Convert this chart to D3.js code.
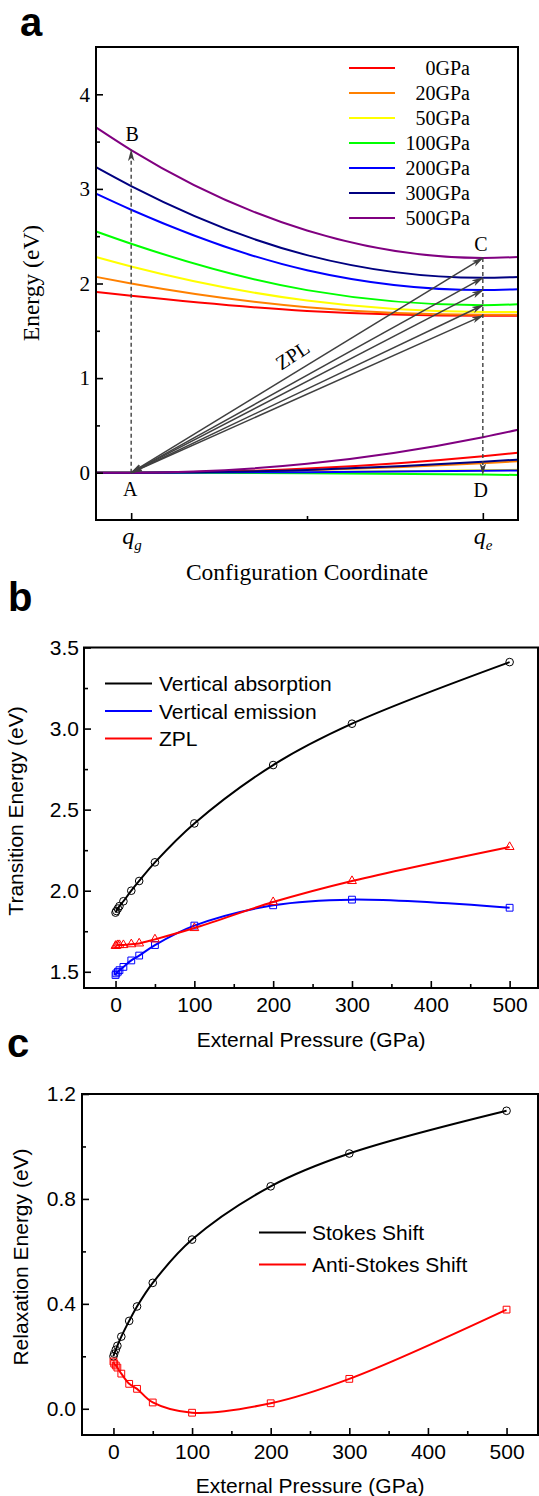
<!DOCTYPE html>
<html>
<head>
<meta charset="utf-8">
<script src="https://cdn.jsdelivr.net/npm/d3@7"></script>
<style>
  body { margin: 0; background: #fff; }
  svg { display: block; }
</style>
</head>
<body>
<svg id="fig" width="539" height="1496"></svg>
<script>
/* three stacked panels: configuration diagram, transition energies, relaxation energies */

// ---- panel a data ----
const curveLabels = ['0GPa', '20GPa', '50GPa', '100GPa', '200GPa', '300GPa', '500GPa'];
const curveColors = ['#ff0000', '#ff8000', '#ffff00', '#00ff00', '#0000ff', '#000080', '#800080'];
const qPoints = [-0.1, 0, 0.5, 1, 1.1];           // configuration coordinate samples
const excitedE = [                                  // excited-state energy at qPoints
  [1.91, 1.87, 1.71, 1.66, 1.66],
  [2.07, 2.00, 1.75, 1.67, 1.67],
  [2.28, 2.18, 1.82, 1.70, 1.70],
  [2.55, 2.42, 1.93, 1.77, 1.78],
  [2.95, 2.78, 2.14, 1.93, 1.94],
  [3.23, 3.03, 2.30, 2.06, 2.07],
  [3.65, 3.41, 2.56, 2.27, 2.28]
];
const groundE = [                                   // ground-state energy at qPoints
  [0, 0, 0.044, 0.175, 0.212],
  [0, 0, 0.025, 0.100, 0.121],
  [0, 0, 0.006, 0.025, 0.030],
  [0, 0, -0.005, -0.020, -0.024],
  [0, 0, 0.005, 0.020, 0.024],
  [0, 0, 0.029, 0.115, 0.139],
  [0, 0, 0.094, 0.375, 0.454]
];
const zplTargets = [1.66, 1.77, 1.93, 2.06, 2.27];
const absorptionTop = 3.41;      // point B
const emissionTop = 2.27;        // point C
const emissionBottom = -0.02;    // point D

// ---- panels b and c data ----
const pressure   = [0, 1, 3, 5, 10, 20, 30, 50, 100, 200, 300, 500];
const vertAbs    = [1.865, 1.875, 1.89, 1.905, 1.935, 2.00, 2.06, 2.175, 2.415, 2.775, 3.03, 3.41];
const vertEmi    = [1.48, 1.49, 1.50, 1.51, 1.53, 1.57, 1.60, 1.665, 1.785, 1.91, 1.945, 1.895];
const zpl        = [1.66, 1.66, 1.665, 1.665, 1.665, 1.67, 1.675, 1.70, 1.77, 1.93, 2.06, 2.27];
const stokes     = [0.20, 0.21, 0.225, 0.24, 0.275, 0.335, 0.39, 0.48, 0.645, 0.848, 0.973, 1.136];
const antiStokes = [0.18, 0.172, 0.165, 0.157, 0.134, 0.095, 0.076, 0.024, -0.015, 0.021, 0.114, 0.378];

const SERIF = '"Liberation Serif", "Times New Roman", serif';
const SANS  = '"Liberation Sans", Arial, sans-serif';
const GREY  = '#404040';

const svg = d3.select('#fig');

// arrow head
svg.append('defs').append('marker')
  .attr('id', 'head')
  .attr('markerUnits', 'userSpaceOnUse')
  .attr('markerWidth', 12).attr('markerHeight', 8)
  .attr('refX', 11).attr('refY', 4)
  .attr('orient', 'auto-start-reverse')
  .append('path')
  .attr('d', 'M0,0.8 L12,4 L0,7.2 L3,4 Z')
  .attr('fill', GREY);

function frame(x, y) {
  svg.append('rect')
    .attr('x', x.range()[0]).attr('y', y.range()[1])
    .attr('width', x.range()[1] - x.range()[0])
    .attr('height', y.range()[0] - y.range()[1])
    .attr('fill', 'none').attr('stroke', '#000').attr('stroke-width', 2);
}

// inward ticks, labels outside
function axes(x, y, o) {
  const gx = svg.append('g').attr('transform', `translate(0,${y.range()[0]})`)
    .call(d3.axisBottom(x).tickValues(o.xMajor).tickSize(-7).tickPadding(o.xPad)
      .tickFormat(o.xFormat));
  svg.append('g').attr('transform', `translate(0,${y.range()[0]})`)
    .call(d3.axisBottom(x).tickValues(o.xMinor).tickSize(-4).tickFormat(''));
  const gy = svg.append('g').attr('transform', `translate(${x.range()[0]},0)`)
    .call(d3.axisLeft(y).tickValues(o.yMajor).tickSize(-7).tickPadding(o.yPad)
      .tickFormat(o.yFormat));
  svg.append('g').attr('transform', `translate(${x.range()[0]},0)`)
    .call(d3.axisLeft(y).tickValues(o.yMinor).tickSize(-4).tickFormat(''));
  svg.selectAll('.domain').remove();
  svg.selectAll('.tick line').attr('stroke', '#000').attr('stroke-width', 1.6);
  [gx, gy].forEach(g => g.selectAll('text')
    .attr('font-family', o.font).attr('font-size', o.size).attr('fill', '#000'));
}

function label(txt, x, y, size, font, extra) {
  const t = svg.append('text').attr('x', x).attr('y', y)
    .attr('font-family', font).attr('font-size', size)
    .attr('text-anchor', 'middle').attr('fill', '#000').text(txt);
  if (extra) extra(t);
  return t;
}

function panelLetter(ch, x, y) {
  svg.append('text').attr('x', x).attr('y', y)
    .attr('font-family', SANS).attr('font-weight', 'bold')
    .attr('font-size', 40).text(ch);
}

/* ================= panel a ================= */
{
  const x = d3.scaleLinear().domain([-0.1, 1.1]).range([96, 518]);
  const y = d3.scaleLinear().domain([-0.5, 4.5]).range([520, 47]);

  panelLetter('a', 20, 36);

  const line = d3.line()
    .x((d, i) => x(qPoints[i])).y(d => y(d))
    .curve(d3.curveMonotoneX);

  const curves = svg.append('g').attr('fill', 'none').attr('stroke-width', 2);
  curveColors.forEach((c, k) => {
    curves.append('path').attr('d', line(groundE[k])).attr('stroke', c);
  });
  curveColors.forEach((c, k) => {
    curves.append('path').attr('d', line(excitedE[k])).attr('stroke', c);
  });

  // ZPL arrows from A
  const arrows = svg.append('g').attr('stroke', GREY).attr('stroke-width', 1.5);
  zplTargets.forEach(e => {
    arrows.append('line')
      .attr('x1', x(0)).attr('y1', y(0))
      .attr('x2', x(1)).attr('y2', y(e))
      .attr('marker-start', 'url(#head)').attr('marker-end', 'url(#head)');
  });

  // vertical transitions
  arrows.append('line')
    .attr('x1', x(0)).attr('y1', y(0)).attr('x2', x(0)).attr('y2', y(absorptionTop))
    .attr('stroke-dasharray', '4,3').attr('stroke-width', 1.4)
    .attr('marker-end', 'url(#head)');
  arrows.append('line')
    .attr('x1', x(1)).attr('y1', y(emissionTop)).attr('x2', x(1)).attr('y2', y(emissionBottom))
    .attr('stroke-dasharray', '4,3').attr('stroke-width', 1.4)
    .attr('marker-end', 'url(#head)');

  label('B', x(0) + 1, y(absorptionTop) - 9, 20, SERIF);
  label('C', x(1) - 2, y(emissionTop) - 7, 20, SERIF);
  label('A', x(0) - 1, y(0) + 23, 20, SERIF);
  label('D', x(1) - 2, y(0) + 24, 20, SERIF);

  label('ZPL', 293, 362, 20, SERIF, t =>
    t.attr('transform', 'rotate(-33,293,356)'));

  frame(x, y);
  axes(x, y, {
    xMajor: [0, 1], xMinor: [0.5], xPad: 0, xFormat: '',
    yMajor: [0, 1, 2, 3, 4], yMinor: [0.5, 1.5, 2.5, 3.5], yPad: 6,
    yFormat: d3.format('d'), font: SERIF, size: 21
  });

  // q_g / q_e
  [['g', 0], ['e', 1]].forEach(([s, v]) => {
    const t = svg.append('text').attr('x', x(v) - 9).attr('y', 544)
      .attr('font-family', SERIF).attr('font-style', 'italic')
      .attr('font-size', 24).attr('fill', '#000');
    t.append('tspan').text('q');
    t.append('tspan').attr('font-size', 15).attr('dy', 6).text(s);
  });

  label('Configuration Coordinate', (x.range()[0] + x.range()[1]) / 2, 580, 23.5, SERIF);
  label('Energy (eV)', 39, 283, 23.5, SERIF, t =>
    t.attr('transform', 'rotate(-90,39,283)'));

  // legend
  const lg = svg.append('g');
  curveLabels.forEach((s, k) => {
    const yy = 68 + k * 25;
    lg.append('line').attr('x1', 349).attr('x2', 395).attr('y1', yy).attr('y2', yy)
      .attr('stroke', curveColors[k]).attr('stroke-width', 2);
    lg.append('text').attr('x', 470).attr('y', yy + 7)
      .attr('text-anchor', 'end').attr('font-family', SERIF)
      .attr('font-size', 20).text(s);
  });
}

/* shared drawing for panels b and c */
function series(x, y, vals, color, shape) {
  const pts = pressure.map((p, i) => [x(p), y(vals[i])]);
  svg.append('path')
    .attr('d', d3.line().curve(d3.curveCatmullRom.alpha(0.5))(pts))
    .attr('fill', 'none').attr('stroke', color).attr('stroke-width', 2);
  svg.append('g').selectAll('path').data(pts).join('path')
    .attr('transform', d => `translate(${d[0]},${d[1]})`)
    .attr('d', d3.symbol().type(shape.type).size(shape.size))
    .attr('fill', 'none').attr('stroke', color).attr('stroke-width', 1);
}

function legend(items, x0, x1, tx, y0, dy) {
  items.forEach(([txt, c], k) => {
    const yy = y0 + k * dy;
    svg.append('line').attr('x1', x0).attr('x2', x1).attr('y1', yy).attr('y2', yy)
      .attr('stroke', c).attr('stroke-width', 2);
    svg.append('text').attr('x', tx).attr('y', yy + 7.5)
      .attr('font-family', SANS).attr('font-size', 21).text(txt);
  });
}

const CIRCLE = { type: d3.symbolCircle, size: 46 };
const SQUARE = { type: d3.symbolSquare, size: 46 };
const TRI    = { type: d3.symbolTriangle, size: 34 };

/* ================= panel b ================= */
{
  const x = d3.scaleLinear().domain([-40, 536]).range([84, 538]);
  const y = d3.scaleLinear().domain([1.4, 3.5]).range([988, 647.5]);

  panelLetter('b', 8, 611);

  series(x, y, vertAbs, '#000', CIRCLE);
  series(x, y, vertEmi, '#0000ff', SQUARE);
  series(x, y, zpl, '#ff0000', TRI);

  frame(x, y);
  axes(x, y, {
    xMajor: [0, 100, 200, 300, 400, 500], xMinor: [50, 150, 250, 350, 450], xPad: 9,
    xFormat: d3.format('d'),
    yMajor: [1.5, 2.0, 2.5, 3.0, 3.5], yMinor: [1.75, 2.25, 2.75, 3.25], yPad: 5,
    yFormat: d3.format('.1f'), font: SANS, size: 21
  });

  legend([['Vertical absorption', '#000'], ['Vertical emission', '#0000ff'], ['ZPL', '#ff0000']],
    105, 152, 159, 683.5, 27.5);

  label('External Pressure (GPa)', 311, 1047, 21, SANS);
  label('Transition Energy (eV)', 22.5, 811, 21, SANS, t =>
    t.attr('transform', 'rotate(-90,22.5,811)'));
}

/* ================= panel c ================= */
{
  const x = d3.scaleLinear().domain([-40, 540]).range([82, 538]);
  const y = d3.scaleLinear().domain([-0.1, 1.2]).range([1435, 1094]);

  panelLetter('c', 7, 1057);

  series(x, y, stokes, '#000', CIRCLE);
  series(x, y, antiStokes, '#ff0000', SQUARE);

  frame(x, y);
  axes(x, y, {
    xMajor: [0, 100, 200, 300, 400, 500], xMinor: [50, 150, 250, 350, 450], xPad: 9,
    xFormat: d3.format('d'),
    yMajor: [0, 0.4, 0.8, 1.2], yMinor: [0.2, 0.6, 1.0], yPad: 6,
    yFormat: d3.format('.1f'), font: SANS, size: 21
  });

  legend([['Stokes Shift', '#000'], ['Anti-Stokes Shift', '#ff0000']],
    259, 306, 312, 1232.5, 32);

  label('External Pressure (GPa)', 310, 1493, 21, SANS);
  label('Relaxation Energy (eV)', 28, 1257, 21, SANS, t =>
    t.attr('transform', 'rotate(-90,28,1257)'));
}
</script>
</body>
</html>
